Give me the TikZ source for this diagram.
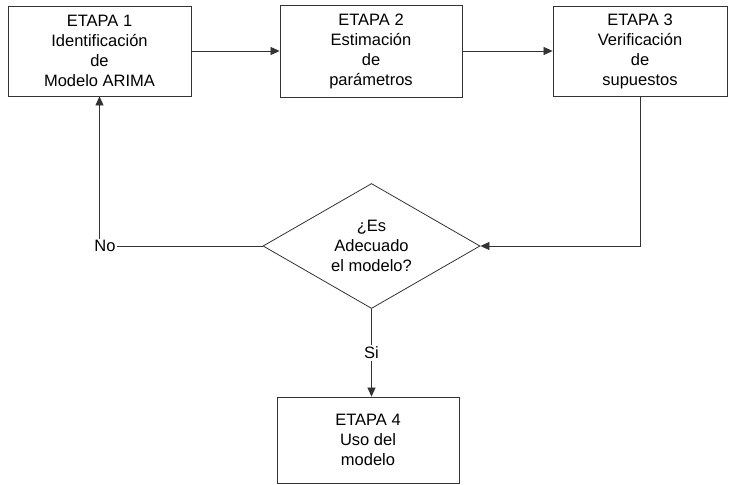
\documentclass[tikz,border=0pt]{standalone}
\usepackage{fontspec}
\setmainfont{Liberation Sans}
\usetikzlibrary{shapes.geometric,arrows.meta}

\tikzset{
  texto/.style={align=center, font=\fontsize{16.5}{20}\selectfont},
  etapa/.style={texto, draw=black!80, line width=0.8pt, inner sep=0pt},
  decision/.style={diamond, draw=black!80, line width=0.8pt, inner sep=0pt,
    minimum width=217pt, minimum height=125pt},
  flecha/.style={draw=black!80, line width=0.7pt,
    -{Triangle[length=9pt,width=8pt]}},
  linea/.style={draw=black!80, line width=0.7pt}
}

\begin{document}
\begin{tikzpicture}[x=1pt,y=-1pt]
\useasboundingbox (0,0) rectangle (730,484);

% Draw the four stages
\node[etapa, minimum width=183pt, minimum height=90pt] (e1) at (99.5,51)
  {ETAPA 1\\Identificación\\de\\Modelo ARIMA};
\node[etapa, minimum width=182pt, minimum height=92pt] (e2) at (371,51)
  {ETAPA 2\\Estimación\\de\\parámetros};
\node[etapa, minimum width=174pt, minimum height=90pt] (e3) at (640,51)
  {ETAPA 3\\Verificación\\de\\supuestos};
\node[etapa, minimum width=182pt, minimum height=86pt] (e4) at (368,440)
  {ETAPA 4\\Uso del\\modelo};

% Draw the decision
\node[decision] (dec) at (371.5,246) {};
\node[texto] (pregunta) at (dec) {¿Es\\Adecuado\\el modelo?};
\node[texto, inner sep=1pt] (no) at (105,246) {No};

% Draw the connectors
\draw[flecha] (e1) -- (e2);
\draw[flecha] (e2) -- (e3);
\draw[flecha] (e3.south) |- (dec.east);
\draw[linea] (dec.west) -- (no.east);
\draw[flecha] (no.north -| e1.south) -- (e1.south);
\draw[flecha] (dec.south) -- node[texto, fill=white, inner sep=2pt] (si) {Si}
  (dec.south |- e4.north);

\end{tikzpicture}
\end{document}
